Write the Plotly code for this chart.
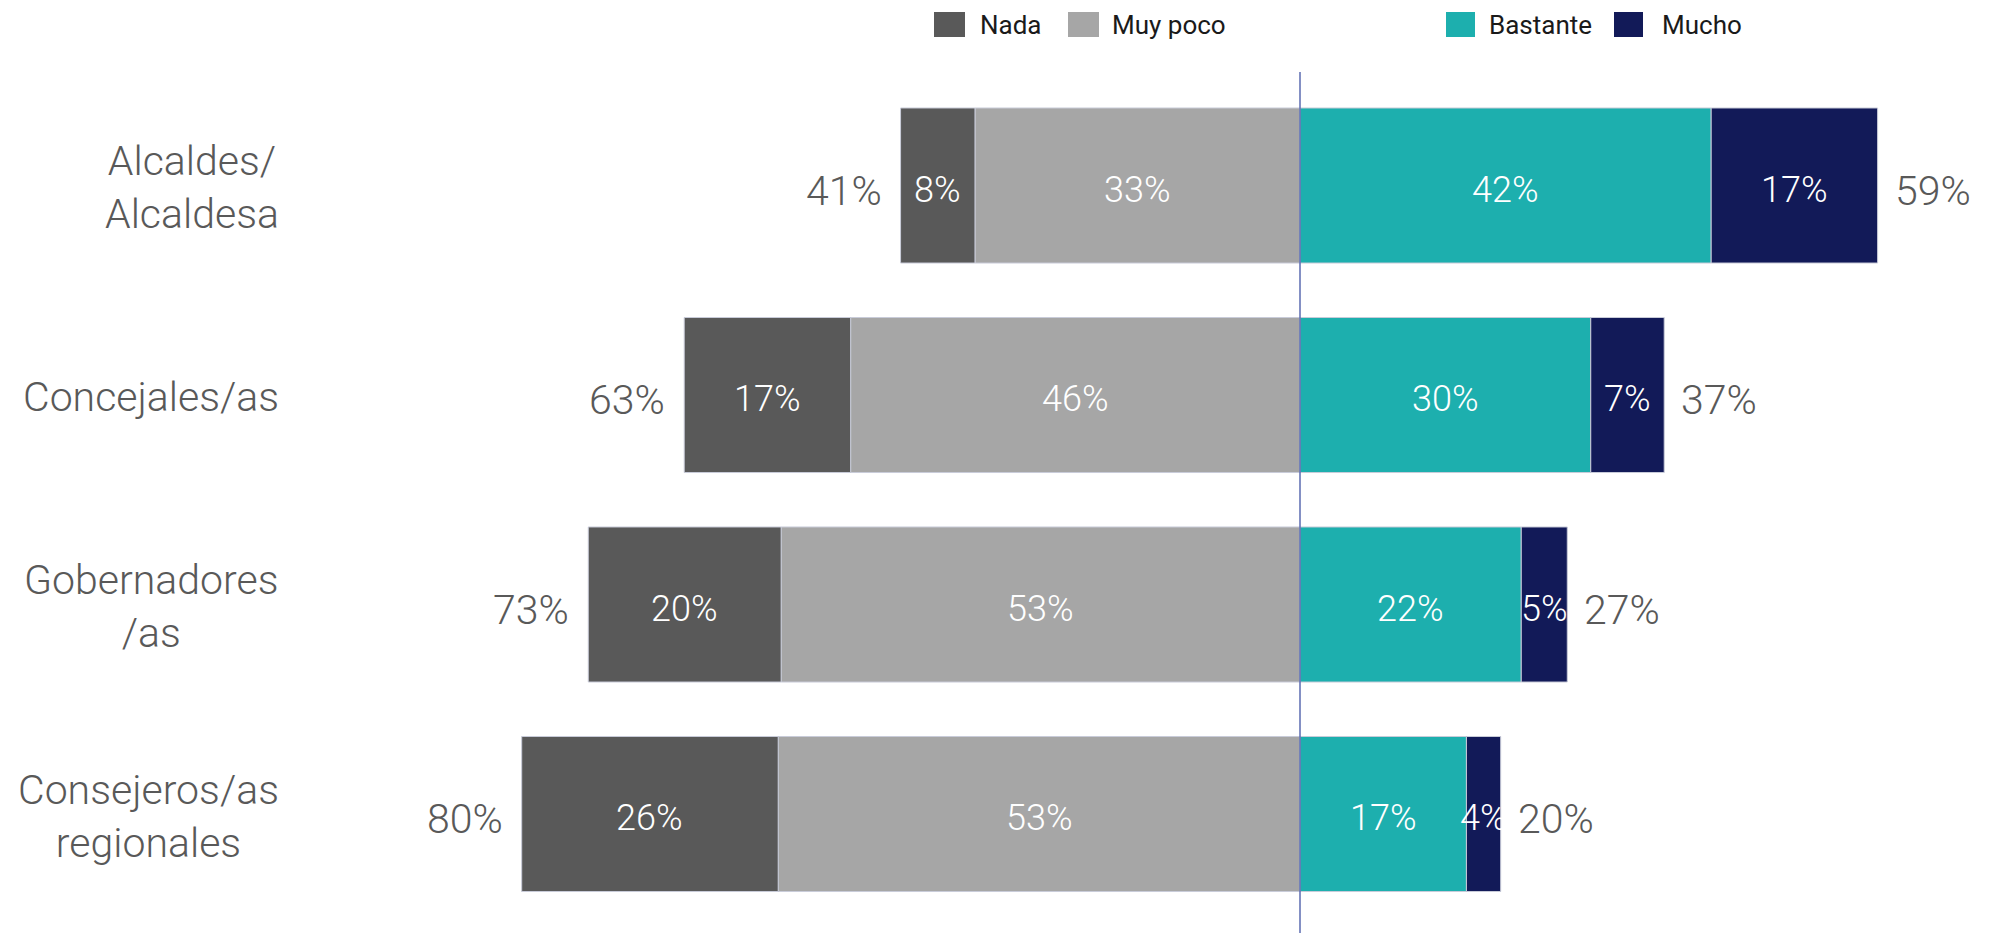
import plotly.graph_objects as go

categories = ["Alcaldes/<br>Alcaldesa", "Concejales/as", "Gobernadores<br>/as", "Consejeros/as<br>regionales"]
nada = [7.6, 17.0, 19.7, 26.2]
muy_poco = [33.2, 45.9, 53.0, 53.3]
bastante = [42.0, 29.7, 22.6, 17.0]
mucho = [17.0, 7.5, 4.7, 3.5]

nada_lbl = ["8%", "17%", "20%", "26%"]
muy_poco_lbl = ["33%", "46%", "53%", "53%"]
bastante_lbl = ["42%", "30%", "22%", "17%"]
mucho_lbl = ["17%", "7%", "5%", "4%"]
neg_total_lbl = ["41%", "63%", "73%", "80%"]
pos_total_lbl = ["59%", "37%", "27%", "20%"]

series_names = ["Nada", "Muy poco", "Bastante", "Mucho"]
colors = {"Nada": "#595959", "Muy poco": "#A6A6A6", "Bastante": "#1DAFAE", "Mucho": "#121A58"}

W, H = 1992, 933
FONT = "Roboto, 'Liberation Sans', sans-serif"
GREY = "#595959"

idx = list(range(len(categories)))
fig = go.Figure()
border = dict(color="#c9ccd9", width=1)

# Left side: Muy poco adjacent to zero, then Nada
fig.add_trace(go.Bar(y=idx, x=[-v for v in muy_poco], orientation="h", name="Muy poco",
                     marker=dict(color=colors["Muy poco"], line=border), showlegend=False, hoverinfo="skip"))
fig.add_trace(go.Bar(y=idx, x=[-v for v in nada], orientation="h", name="Nada",
                     marker=dict(color=colors["Nada"], line=border), showlegend=False, hoverinfo="skip"))
fig.add_trace(go.Bar(y=idx, x=bastante, orientation="h", name="Bastante",
                     marker=dict(color=colors["Bastante"], line=border), showlegend=False, hoverinfo="skip"))
fig.add_trace(go.Bar(y=idx, x=mucho, orientation="h", name="Mucho",
                     marker=dict(color=colors["Mucho"], line=border), showlegend=False, hoverinfo="skip"))

annotations = []

# segment labels at segment centres
mp_c = [-v / 2 for v in muy_poco]
na_c = [-(m + n / 2) for m, n in zip(muy_poco, nada)]
ba_c = [b / 2 for b in bastante]
mu_c = [b + m / 2 for b, m in zip(bastante, mucho)]
for xs, lbls in [(mp_c, muy_poco_lbl), (na_c, nada_lbl), (ba_c, bastante_lbl), (mu_c, mucho_lbl)]:
    for i in idx:
        annotations.append(dict(x=xs[i], y=i, xref="x", yref="y", text=lbls[i], showarrow=False,
                                xanchor="center", yanchor="middle", yshift=-4,
                                font=dict(family=FONT, size=36, color="white", weight=300)))

for i, cat in enumerate(categories):
    annotations.append(dict(x=-104.1, y=i, xref="x", yref="y", text=cat, showarrow=False,
                            xanchor="right", yanchor="middle", align="center", yshift=-2,
                            font=dict(family=FONT, size=41, color=GREY, weight=300)))
    left_total = nada[i] + muy_poco[i]
    right_total = bastante[i] + mucho[i]
    annotations.append(dict(x=-left_total, y=i, xref="x", yref="y", text=neg_total_lbl[i], showarrow=False,
                            xanchor="right", yanchor="middle", xshift=-17, yshift=-5,
                            font=dict(family=FONT, size=41, color=GREY, weight=300)))
    annotations.append(dict(x=right_total, y=i, xref="x", yref="y", text=pos_total_lbl[i], showarrow=False,
                            xanchor="left", yanchor="middle", xshift=15, yshift=-5,
                            font=dict(family=FONT, size=41, color=GREY, weight=300)))

# manual legend (pixel positions converted to paper)
shapes = []
legend_items = [("Nada", 934, 965, 978), ("Muy poco", 1068, 1099, 1110),
                ("Bastante", 1446, 1475, 1487), ("Mucho", 1614, 1643, 1660)]
for name, x0, x1, tx in legend_items:
    shapes.append(dict(type="rect", xref="paper", yref="paper", x0=x0 / W, x1=x1 / W,
                       y0=1 - 37 / H, y1=1 - 12 / H, fillcolor=colors[name], line=dict(width=0)))
    annotations.append(dict(x=tx / W, y=1 - 25 / H, xref="paper", yref="paper", text=name, showarrow=False,
                            xanchor="left", yanchor="middle",
                            font=dict(family=FONT, size=26, color="#1a1a1a")))

# centre line
shapes.append(dict(type="line", xref="x", yref="paper", x0=0, x1=0, y0=0, y1=1 - 72 / H,
                   line=dict(color="#5b6bb0", width=1.5), layer="above"))

px_per_unit = 9.79
fig.update_layout(
    width=W, height=H, autosize=False,
    margin=dict(l=0, r=0, t=0, b=0),
    paper_bgcolor="white", plot_bgcolor="white",
    barmode="relative", bargap=0.26,
    xaxis=dict(range=[-1300 / px_per_unit, (W - 1300) / px_per_unit], visible=False, fixedrange=True),
    yaxis=dict(range=[3 + 119 / 209.5, -185.5 / 209.5], visible=False, fixedrange=True),
    annotations=annotations, shapes=shapes,
    font=dict(family=FONT),
)

fig.write_html("out.html", config={"displayModeBar": False},
               post_script="document.body.style.margin='0';document.body.style.overflow='hidden';")
